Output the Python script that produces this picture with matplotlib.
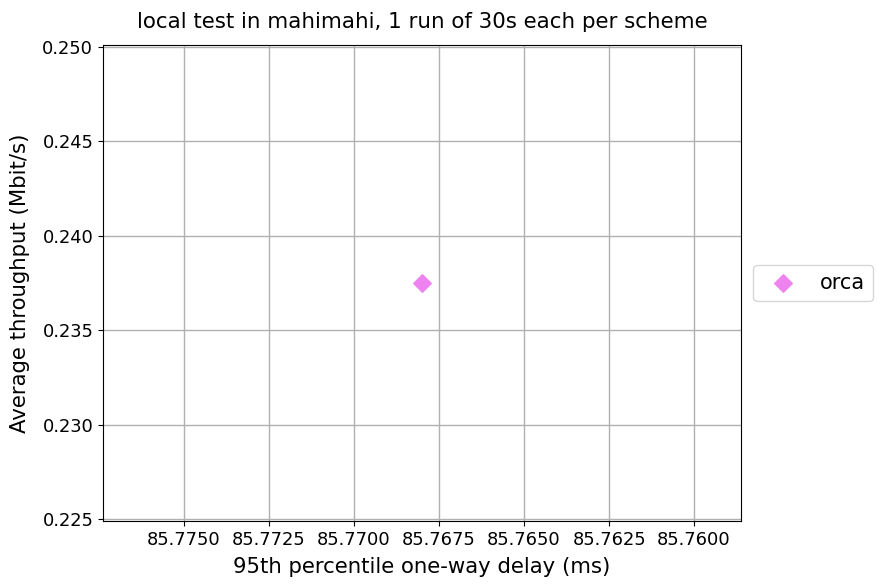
import matplotlib
matplotlib.use('Agg')
import matplotlib.pyplot as plt
from matplotlib.ticker import FormatStrFormatter

schemes = ['orca']
delays = [85.7680]
throughputs = [0.2375]
colors = ['violet']
markers = ['D']

fig, ax = plt.subplots(figsize=(8.78, 5.84), dpi=100)
fig.subplots_adjust(left=0.1173, right=0.844, top=0.923, bottom=0.108)

for name, x, y, c, m in zip(schemes, delays, throughputs, colors, markers):
    ax.scatter(x, y, color=c, marker=m, s=80, label=name, zorder=3)

ax.set_xlim(85.77738, 85.75862)
ax.set_ylim(0.22490, 0.25010)
ax.xaxis.set_major_formatter(FormatStrFormatter('%.4f'))
ax.yaxis.set_major_formatter(FormatStrFormatter('%.3f'))
ax.tick_params(labelsize=12.9)
ax.grid(True, color='#b0b0b0', linewidth=1)
ax.set_axisbelow(True)

ax.set_xlabel('95th percentile one-way delay (ms)', fontsize=15.3, labelpad=6)
ax.set_ylabel('Average throughput (Mbit/s)', fontsize=15.3, labelpad=9)
ax.set_title('local test in mahimahi, 1 run of 30s each per scheme', fontsize=15.4, pad=12)
ax.legend(loc='center left', bbox_to_anchor=(1.003, 0.5), fontsize=15, scatterpoints=1)

fig.savefig('out.png', dpi=100)
